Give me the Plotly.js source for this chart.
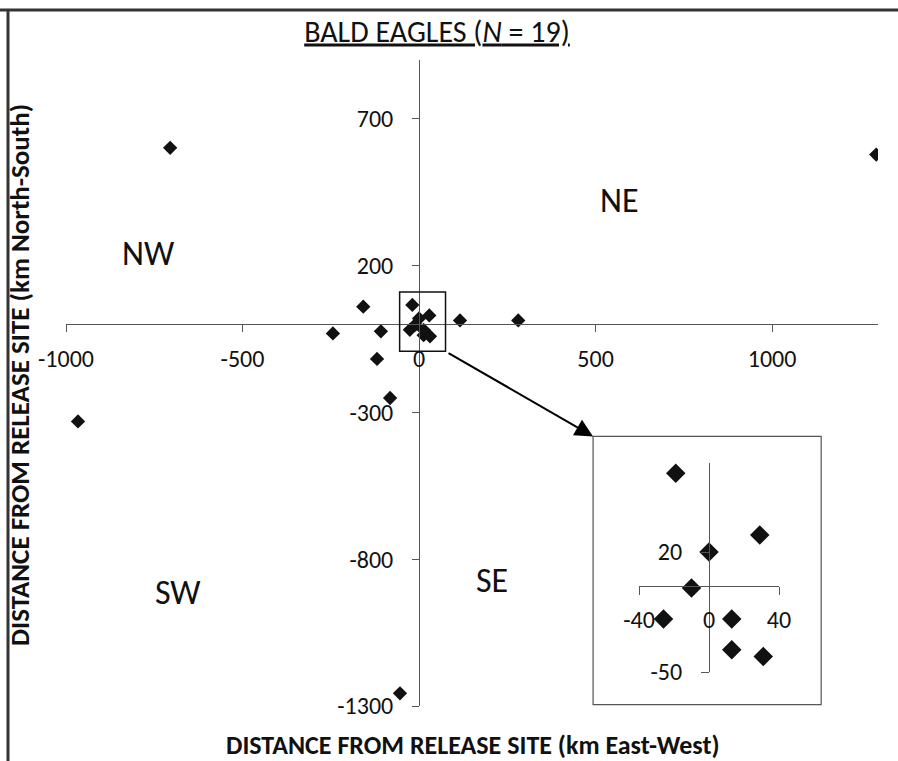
<!DOCTYPE html>
<html><head><meta charset="utf-8">
<script src="https://cdn.plot.ly/plotly-3.0.1.min.js"></script>
<style>html,body{margin:0;padding:0;background:#fff}</style>
</head><body><div id="chart" style="width:898px;height:761px"></div>
<script>
// Bald eagle displacement from release site (km)
const eastWest   = [-705, 1295, -966, -158, -244, -108, -119, -82, -54, 116, 281, -19, 29, 0, -10, -26, 13, 13, 31];
const northSouth = [601, 578, -331, 60, -31, -24, -118, -251, -1257, 13, 13, 66, 30, 20, -1, -19, -19, -37, -41];
const mainXTicks = [-1000, -500, 0, 500, 1000];
const mainXTickText = ['-1000', '-500', '0', '500', '1000'];
const mainYTicks = [-1300, -800, -300, 200, 700];
const mainYTickText = ['-1300', '-800', '-300', '200', '700'];
const insetXTicks = [-40, 0, 40];
const insetXTickText = ['-40', '0', '40'];
const insetYTicks = [-50, 20];
const insetYTickText = ['-50', '20'];
const quadrantLabels = ['NE', 'NW', 'SW', 'SE'];

const W = 898, H = 761;
const px = v => v / W;
const py = v => 1 - v / H;
const FONT = "Carlito, Lato, 'Open Sans', sans-serif";

const mainXRange = [-1000, 1300], mainYRange = [-1300, 900];
const mainXDom = [px(66), px(878)], mainYDom = [py(706), py(60)];
const inXRange = [-40, 40], inYRange = [-50, 72];
const inXDom = [px(639), px(779)], inYDom = [py(672), py(463)];

const zeroPos = (range, dom) => dom[0] + (0 - range[0]) / (range[1] - range[0]) * (dom[1] - dom[0]);

// inset subset (cluster near the release site)
const insetX = [], insetY = [];
eastWest.forEach((x, i) => { if (Math.abs(x) <= 50 && Math.abs(northSouth[i]) <= 100) { insetX.push(x); insetY.push(northSouth[i]); } });

const axisCommon = {
  showgrid: false, zeroline: false, showline: true, linecolor: '#555', linewidth: 1,
  ticks: 'outside', ticklen: 7, tickwidth: 1, tickcolor: '#555',
  tickfont: {family: FONT, size: 24, color: '#111'}, tickmode: 'array', fixedrange: true
};

const traces = [
  {x: eastWest, y: northSouth, type: 'scatter', mode: 'markers', xaxis: 'x', yaxis: 'y',
   marker: {symbol: 'diamond', size: 11, color: '#111'}, hoverinfo: 'skip'},
  {x: insetX, y: insetY, type: 'scatter', mode: 'markers', xaxis: 'x2', yaxis: 'y2',
   marker: {symbol: 'diamond', size: 15, color: '#111'}, hoverinfo: 'skip'}
];

const quadPos = {NE: [569, 423], NW: [-765, 242], SW: [-683, -913], SE: [207, -873]};

const annotations = quadrantLabels.map(q => ({
  text: q, x: quadPos[q][0], y: quadPos[q][1], xref: 'x', yref: 'y', showarrow: false,
  font: {family: FONT, size: 34, color: '#111'}
}));
annotations.push({
  text: '<b>DISTANCE FROM RELEASE SITE (km East-West)</b>', xref: 'paper', yref: 'paper',
  x: px(473), y: py(745), xanchor: 'center', yanchor: 'middle', showarrow: false,
  font: {family: FONT, size: 26, color: '#111'}
});
annotations.push({
  text: '<b>DISTANCE FROM RELEASE SITE (km North-South)</b>', xref: 'paper', yref: 'paper',
  x: px(19), y: py(375), xanchor: 'center', yanchor: 'middle', textangle: -90, showarrow: false,
  font: {family: FONT, size: 27, color: '#111'}
});
annotations.push({
  text: ' ', x: 493, y: -382, xref: 'x', yref: 'y', ax: 75, ay: -92, axref: 'x', ayref: 'y',
  showarrow: true, arrowhead: 2, arrowsize: 1.8, arrowwidth: 2, arrowcolor: '#000', standoff: 0
});

const layout = {
  width: W, height: H, margin: {l: 0, r: 0, t: 0, b: 0},
  paper_bgcolor: '#fff', plot_bgcolor: 'rgba(0,0,0,0)', showlegend: false,
  font: {family: FONT, color: '#111'},
  title: {text: '<u>BALD EAGLES (<i>N</i> = 19)</u>', x: px(437), y: py(31), xanchor: 'center', yanchor: 'middle',
          font: {family: FONT, size: 30, color: '#111'}},
  xaxis: Object.assign({}, axisCommon, {range: mainXRange, domain: mainXDom, anchor: 'free',
          position: zeroPos(mainYRange, mainYDom), tickvals: mainXTicks, ticktext: mainXTickText, ticklabelstandoff: 6}),
  yaxis: Object.assign({}, axisCommon, {range: mainYRange, domain: mainYDom, anchor: 'free',
          position: zeroPos(mainXRange, mainXDom), tickvals: mainYTicks, ticktext: mainYTickText, ticklabelstandoff: 14}),
  xaxis2: Object.assign({}, axisCommon, {range: inXRange, domain: inXDom, anchor: 'free',
          position: zeroPos(inYRange, inYDom), tickvals: insetXTicks, ticktext: insetXTickText, ticklen: 8, ticklabelstandoff: 4}),
  yaxis2: Object.assign({}, axisCommon, {range: inYRange, domain: inYDom, anchor: 'free',
          position: zeroPos(inXRange, inXDom), tickvals: insetYTicks, ticktext: insetYTickText, ticklen: 8, ticklabelstandoff: 14}),
  shapes: [
    {type: 'line', xref: 'paper', yref: 'paper', x0: 0, x1: 1, y0: py(10), y1: py(10), line: {color: '#333', width: 3}},
    {type: 'line', xref: 'paper', yref: 'paper', x0: px(8), x1: px(8), y0: 0, y1: py(10), line: {color: '#333', width: 3}},
    {type: 'rect', xref: 'x', yref: 'y', x0: -55, x1: 75, y0: -92, y1: 110, line: {color: '#111', width: 1.5}},
    {type: 'rect', xref: 'x', yref: 'y', x0: 493, x1: 1139, y0: -1295, y1: -382, line: {color: '#555', width: 1.2}}
  ],
  annotations: annotations
};

Plotly.newPlot('chart', traces, layout, {staticPlot: true, displayModeBar: false});
</script></body></html>
